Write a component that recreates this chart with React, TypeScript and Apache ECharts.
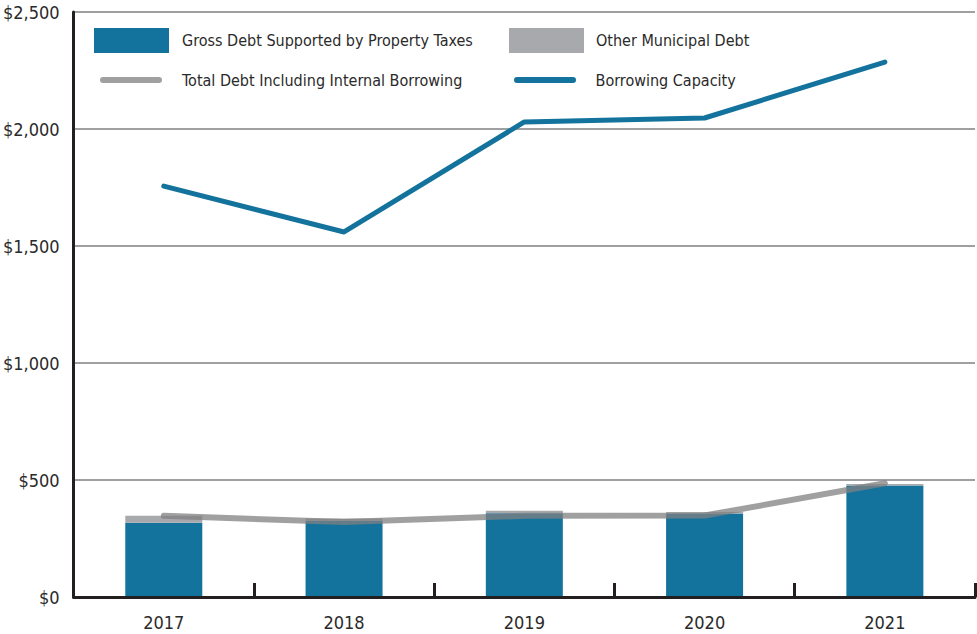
import React, { useEffect, useRef } from "react";
import * as echarts from "echarts";

const categories = ["2017", "2018", "2019", "2020", "2021"];
const grossDebt = [317, 326, 358, 357, 476];
const otherDebt = [30, 9, 11, 6, 7];
const totalDebt = [347, 320, 347, 348, 486];
const borrowingCapacity = [1756, 1560, 2030, 2047, 2286];
const yTicks = [0, 500, 1000, 1500, 2000, 2500];

const FONT = "'Liberation Sans Narrow', 'DejaVu Sans Condensed', 'Roboto Condensed', sans-serif";
const BLUE = "#13739c";
const GRAY = "#a7a9ac";
const TEXT = "#2b2a2a";
const LINE_ICON = "path://M3,0L59,0A3,3,0,0,1,59,6L3,6A3,3,0,0,1,3,0Z";

export default function App() {
  const ref = useRef<HTMLDivElement>(null);
  useEffect(() => {
    if (!ref.current) return;
    const chart = echarts.init(ref.current, null, { renderer: "svg" });
    const legendText = { color: TEXT, fontSize: 16, fontFamily: FONT };
    chart.setOption({
      animation: false,
      grid: { left: 72, right: 2, top: 12, bottom: 37 },
      legend: [
        { left: 94, top: 28, padding: 0, itemWidth: 75, itemHeight: 25, icon: "rect", data: ["Gross Debt Supported by Property Taxes"], textStyle: { ...legendText, padding: [0, 0, 0, 8] } },
        { left: 509, top: 28, padding: 0, itemWidth: 75, itemHeight: 25, icon: "rect", data: ["Other Municipal Debt"], textStyle: { ...legendText, padding: [0, 0, 0, 7] } },
        { left: 100, top: 72, padding: 0, itemWidth: 62, itemHeight: 6, icon: LINE_ICON, data: ["Total Debt Including Internal Borrowing"], textStyle: { ...legendText, padding: [0, 0, 0, 15] } },
        { left: 514, top: 72, padding: 0, itemWidth: 67, itemHeight: 6, icon: LINE_ICON, data: ["Borrowing Capacity"], textStyle: { ...legendText, padding: [0, 0, 0, 12] } },
      ],
      xAxis: {
        type: "category",
        data: categories,
        boundaryGap: true,
        axisLine: { lineStyle: { color: "#231f20", width: 3 } },
        axisTick: { show: true, inside: true, length: 14, lineStyle: { color: "#231f20", width: 3 } },
        axisLabel: { color: TEXT, fontSize: 18, fontFamily: FONT, margin: 16 },
        z: 10,
      },
      yAxis: {
        type: "value",
        min: yTicks[0],
        max: yTicks[yTicks.length - 1],
        interval: 500,
        axisLine: { show: true, lineStyle: { color: "#231f20", width: 3 } },
        axisTick: { show: false },
        axisLabel: {
          color: TEXT,
          fontSize: 18,
          fontFamily: FONT,
          margin: 14,
          formatter: (v: number) => "$" + v.toLocaleString("en-US"),
        },
        splitLine: { show: true, lineStyle: { color: "#a0a0a2", width: 2 } },
      },
      series: [
        {
          name: "Gross Debt Supported by Property Taxes",
          type: "bar",
          stack: "debt",
          data: grossDebt,
          barWidth: 77,
          itemStyle: { color: BLUE },
        },
        {
          name: "Other Municipal Debt",
          type: "bar",
          stack: "debt",
          data: otherDebt,
          barWidth: 77,
          itemStyle: { color: GRAY },
        },
        {
          name: "Total Debt Including Internal Borrowing",
          type: "line",
          data: totalDebt,
          symbol: "none",
          itemStyle: { color: "rgba(128,128,130,0.75)" },
          lineStyle: { color: "rgba(128,128,130,0.75)", width: 6, cap: "round", join: "round" },
          z: 5,
        },
        {
          name: "Borrowing Capacity",
          type: "line",
          data: borrowingCapacity,
          symbol: "none",
          itemStyle: { color: BLUE },
          lineStyle: { color: BLUE, width: 5, cap: "round", join: "round" },
          z: 5,
        },
      ],
    });
    return () => chart.dispose();
  }, []);
  return <div ref={ref} style={{ width: 977, height: 634, position: "absolute", left: 0, top: 0 }} />;
}
